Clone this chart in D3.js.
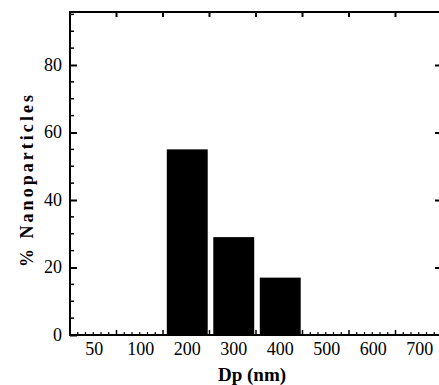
<!DOCTYPE html>
<html><head><meta charset="utf-8">
<script src="https://cdn.jsdelivr.net/npm/d3@7"></script>
<style>
body{margin:0;background:#fff;}
svg{display:block;}
text{font-family:"Liberation Serif","Times New Roman",serif;fill:#000;}
</style></head>
<body><svg id="c" width="439" height="385"></svg>
<script>
const categories = ["50","100","200","300","400","500","600","700"];
const percentages = [0,0,55,29,17,0,0,0];
const yTicks = [0,20,40,60,80];
const xTitle = "Dp (nm)";
const yTitle = "% Nanoparticles";

const svg = d3.select("#c");
const L = 70, R = 442, T = 12, B = 335;
const x = d3.scaleBand().domain(categories).range([L, R]).paddingInner(0.12).paddingOuter(0.06);
const y = d3.scaleLinear().domain([0, 95.7]).range([B, T]);
const step = (R - L) / categories.length;

// bars
svg.append("g").selectAll("rect").data(categories.map((c,i)=>({c, v:percentages[i]})).filter(d=>d.v>0))
  .join("rect")
  .attr("x", d => x(d.c) + 1).attr("width", x.bandwidth())
  .attr("y", d => y(d.v)).attr("height", d => y(0) - y(d.v))
  .attr("fill", "#000");

// frame
svg.append("rect").attr("x", L).attr("y", T).attr("width", R - L).attr("height", B - T)
  .attr("fill", "none").attr("stroke", "#000").attr("stroke-width", 2);

// left axis (ticks inward)
const yAxis = d3.axisRight(y).tickValues(yTicks).tickSize(7).tickFormat("");
const gl = svg.append("g").attr("transform", `translate(${L},0)`).call(yAxis);
gl.select(".domain").remove();
gl.selectAll("line").attr("stroke-width", 2);
const yMinor = d3.range(0, 96, 5).filter(v => v % 20 !== 0);
svg.append("g").selectAll("line").data(yMinor).join("line")
  .attr("x1", L).attr("x2", L + 4).attr("y1", d => y(d)).attr("y2", d => y(d))
  .attr("stroke", "#000").attr("stroke-width", 1.5);
svg.append("g").selectAll("text").data(yTicks).join("text")
  .attr("x", L - 8).attr("y", d => y(d) + 6).attr("text-anchor", "end")
  .attr("font-size", 18).text(d => d);

// right axis ticks
const gr = svg.append("g").attr("transform", `translate(${R},0)`).call(d3.axisLeft(y).tickValues(yTicks.slice(1)).tickSize(7).tickFormat(""));
gr.select(".domain").remove();
gr.selectAll("line").attr("stroke-width", 2);

// x ticks: band boundaries
const bounds = d3.range(1, categories.length).map(i => L + i * step);
svg.append("g").selectAll("line").data(bounds).join("line")
  .attr("x1", d => d).attr("x2", d => d).attr("y1", T).attr("y2", T + 5)
  .attr("stroke", "#000").attr("stroke-width", 2);
svg.append("g").selectAll("line").data(bounds).join("line")
  .attr("x1", d => d).attr("x2", d => d).attr("y1", B).attr("y2", B - 5)
  .attr("stroke", "#000").attr("stroke-width", 1.5);
const xMinor = [];
for (let i = 0; i < categories.length; i++) for (let k = 1; k < 6; k++) xMinor.push(L + i * step + k * step / 6);
svg.append("g").selectAll("line").data(xMinor).join("line")
  .attr("x1", d => d).attr("x2", d => d).attr("y1", B).attr("y2", B - 3)
  .attr("stroke", "#000").attr("stroke-width", 1.2);

// x labels
svg.append("g").selectAll("text").data(categories).join("text")
  .attr("x", d => x(d) + x.bandwidth() / 2 + 1).attr("y", 355).attr("text-anchor", "middle")
  .attr("font-size", 18).text(d => d);

// titles
svg.append("text").attr("x", 252).attr("y", 381).attr("text-anchor", "middle")
  .attr("font-size", 19).attr("font-weight", "bold").text(xTitle);
svg.append("text").attr("transform", "translate(33,181) rotate(-90)").attr("text-anchor", "middle")
  .attr("font-size", 18).attr("font-weight", "bold")
  .attr("textLength", 172).attr("lengthAdjust", "spacing").text(yTitle);
</script></body></html>
